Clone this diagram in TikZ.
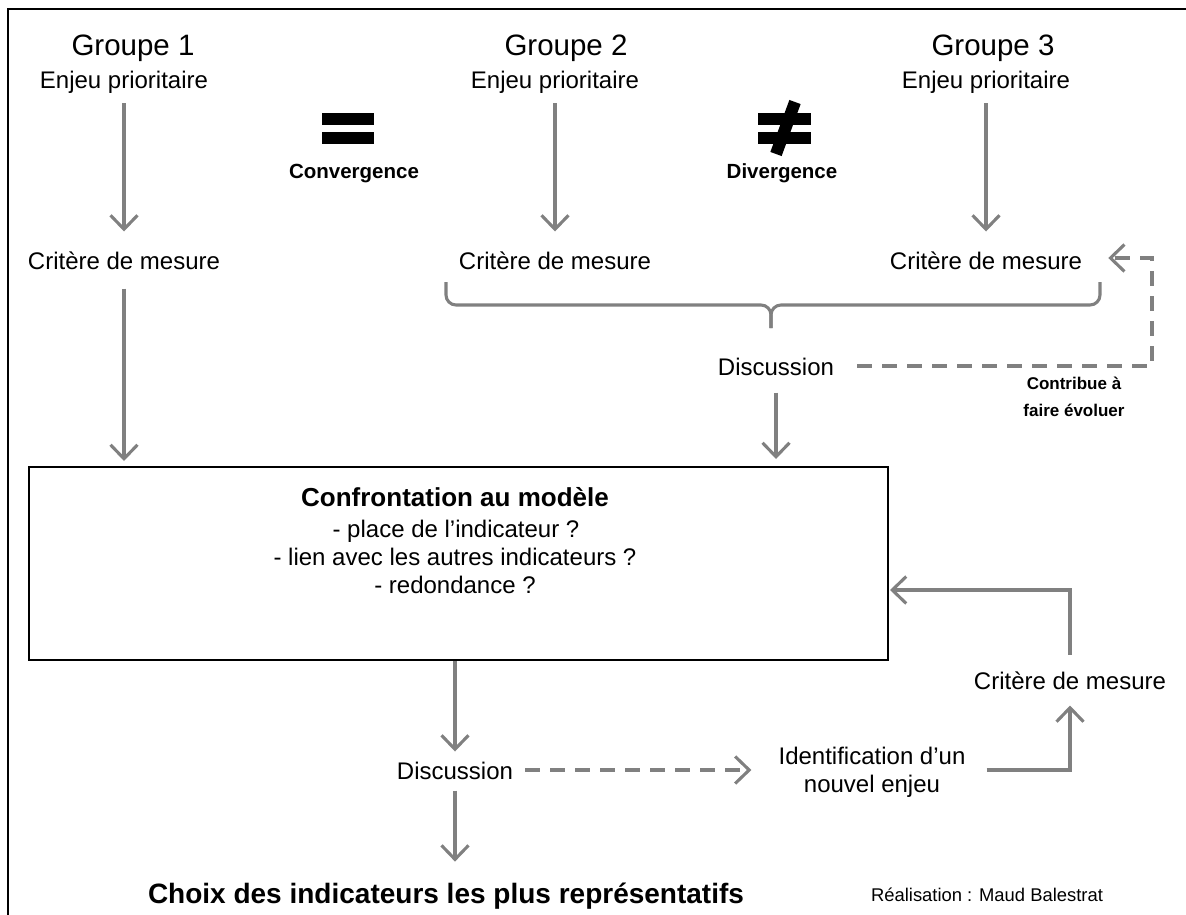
\documentclass[tikz,border=0pt]{standalone}
\usepackage{fontspec}
\setmainfont{Liberation Sans}
\usetikzlibrary{arrows.meta}
\definecolor{ag}{RGB}{128,128,128}
\tikzset{
  txt/.style={inner sep=0pt, text height=20.3pt, text depth=2.3pt, font=\fontsize{24}{29}\selectfont},
  grp/.style={inner sep=0pt, text height=24.2pt, text depth=3.5pt, font=\fontsize{29.5}{33}\selectfont},
  lbl/.style={inner sep=0pt, text height=16.3pt, text depth=3pt, font=\bfseries\fontsize{20.5}{24}\selectfont},
  gline/.style={draw=ag, line width=3.1pt},
  gtip/.style={-{Straight Barb[length=14pt,width=27pt,line width=3.1pt]}},
  garrow/.style={gline, gtip},
  gdash/.style={gline, dash pattern=on 15pt off 10pt},
}
\begin{document}
\begin{tikzpicture}[x=1pt,y=-1pt]
\useasboundingbox (0,0) rectangle (1186,915);
% frame
\draw[line width=2pt] (8,915) -- (8,9) -- (1186,9);

% groups
\node[grp] (g1) at (133,45) {Groupe 1};
\node[grp] (g2) at (566,45) {Groupe 2};
\node[grp] (g3) at (993,45) {Groupe 3};
\node[txt] (e1) at (124,80) {Enjeu prioritaire};
\node[txt] (e2) at (555,80) {Enjeu prioritaire};
\node[txt] (e3) at (986,80) {Enjeu prioritaire};
\node[txt] (c1) at (124,260) {Critère de mesure};
\node[txt] (c2) at (555,260) {Critère de mesure};
\node[txt] (c3) at (986,260) {Critère de mesure};

\draw[garrow, shorten <=12pt, shorten >=17pt] (e1.south) -- (e1.south |- c1.north);
\draw[garrow, shorten <=12pt, shorten >=17pt] (e2.south) -- (e2.south |- c2.north);
\draw[garrow, shorten <=12pt, shorten >=17pt] (e3.south) -- (e3.south |- c3.north);

% equal / not equal
\fill (322,113) rectangle (374,125);
\fill (322,132) rectangle (374,144);
\node[lbl] (conv) at (354,172) {Convergence};
\fill (758,113) rectangle (811,125);
\fill (758,132) rectangle (811,144);
\draw[line width=12pt] (795,102) -- (776,154);
\node[lbl] (div) at (782,172) {Divergence};

% brace
\draw[gline, rounded corners=10pt] (446,282) -- (446,305) -- (771,305) -- (771,328);
\draw[gline, rounded corners=10pt] (1100,282) -- (1100,305) -- (771,305) -- (771,328);

% discussion upper
\node[txt] (d1) at (776,366) {Discussion};
\coordinate (dr) at (1152,366);
\draw[gdash, gtip, shorten <=23pt, shorten >=26pt] (d1.east) -- (dr) |- ([yshift=2pt]c3.east);
\node[inner sep=0pt, align=center, font=\bfseries\fontsize{17}{27}\selectfont] (contrib) at (1074,397) {Contribue à\\faire évoluer};

% box
\node[draw, line width=2pt, minimum width=859pt, minimum height=193pt, inner sep=0pt] (box) at (458.5,563.5) {};
\node[inner sep=0pt, font=\bfseries\fontsize{26}{30}\selectfont, text height=21.7pt, text depth=2.7pt] (conf) at (455,497) {Confrontation au modèle};
\node[txt] (l1) at (456,528) {- place de l’indicateur ?};
\node[txt] (l2) at (455,556) {- lien avec les autres indicateurs ?};
\node[txt] (l3) at (455,584) {- redondance ?};

\draw[garrow, shorten <=17pt, shorten >=5pt] (c1.south) -- (c1.south |- box.north);
\draw[garrow, shorten <=15pt, shorten >=7pt] (d1.south) -- (d1.south |- box.north);

% lower part
\node[txt] (d2) at (455,770) {Discussion};
\draw[garrow, shorten >=7pt] (box.south -| d2) -- (d2.north);
\node[inner sep=0pt, align=center, font=\fontsize{24}{28}\selectfont] (id) at (872,772) {Identification d’un\\nouvel enjeu};
\draw[gdash, gtip, shorten <=12pt, shorten >=27pt] (d2.east) -- (d2.east -| id.west);
\node[txt] (c4) at (1070,680) {Critère de mesure};
\draw[garrow, shorten <=21pt, shorten >=14pt] ([yshift=2pt]id.east) -| (c4.south);
\draw[garrow, shorten <=14pt, shorten >=1pt] (c4.north) |- ([yshift=-26.5pt]box.east);

\node[inner sep=0pt, font=\bfseries\fontsize{28}{32}\selectfont, text height=23.2pt, text depth=3.2pt] (choix) at (446,893) {Choix des indicateurs les plus représentatifs};
\draw[garrow, shorten <=9pt, shorten >=18pt] (d2.south) -- (d2.south |- choix.north);
\node[inner sep=0pt, font=\fontsize{18.4}{22}\selectfont] (real) at (987,895) {Réalisation : Maud Balestrat};
\end{tikzpicture}
\end{document}
